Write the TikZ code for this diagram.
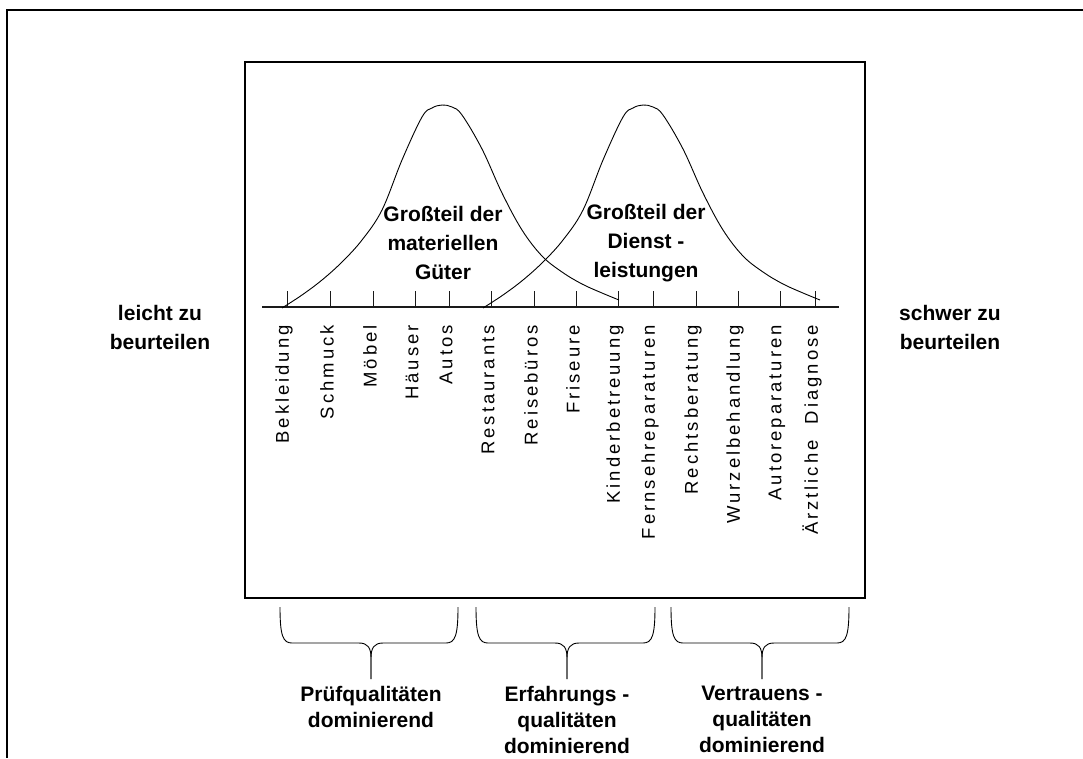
\documentclass[tikz,border=0pt]{standalone}
\usepackage{fontspec}
\setmainfont{Liberation Sans}
\newfontfamily\ticklabelfont[LetterSpace=16]{Liberation Sans}
\usetikzlibrary{calc}
\usetikzlibrary{positioning}
\definecolor{color_frame}{HTML}{000000}
\definecolor{color_chart_line}{HTML}{1A1A1A}
\def\axisy{307}
\def\ticktop{291}
\def\labeltop{325}
\def\bracetop{607}
\def\braceflat{643}
\def\bracetip{679}
% bell curve through points given relative to its peak x
\def\bellcurve(#1){
    \draw[bellline] plot[smooth, tension=0.6] coordinates {
        (#1-160,308) (#1-140,295) (#1-120,280) (#1-100,262) (#1-80,240) (#1-60,210)
        (#1-40,160) (#1-20,117) (#1-10,108) (#1,105) (#1+10,107) (#1+20,115) (#1+40,149)
        (#1+60,193) (#1+80,230) (#1+100,256) (#1+120,272) (#1+140,284) (#1+160,293) (#1+177,300)};
}
% brace below the box: left x, tip x, right x, name of tip
\def\qualbrace(#1,#2,#3,#4){
    \coordinate (#4) at (#2,\bracetip);
    \draw[braceline] (#1,\bracetop) .. controls (#1,\braceflat-7) and (#1+3,\braceflat) .. (#1+12,\braceflat)
        -- (#2-12,\braceflat) .. controls (#2-3,\braceflat) and (#2,\braceflat+5) .. (#2,\braceflat+15) -- (#4);
    \draw[braceline] (#4) -- (#2,\braceflat+15) .. controls (#2,\braceflat+5) and (#2+3,\braceflat) .. (#2+12,\braceflat)
        -- (#3-12,\braceflat) .. controls (#3-3,\braceflat) and (#3,\braceflat-7) .. (#3,\bracetop);
}

\begin{document}
\begin{tikzpicture}[x=1pt, y=-1pt,
        frameline/.style={color_frame, line width=1.8pt},
        boxline/.style={color_frame, line width=1.2pt},
        axisline/.style={color_chart_line, line width=1.3pt},
        tickline/.style={color_chart_line, line width=0.9pt},
        bellline/.style={color_frame, line width=0.9pt},
        braceline/.style={color_frame, line width=0.9pt},
        ticklabel/.style={rotate=90, anchor=east, inner sep=0pt, font=\ticklabelfont\fontsize{18.5}{20}\selectfont},
        boldtext/.style={align=center, inner sep=0pt, font=\bfseries\fontsize{21}{29}\selectfont},
        qualtext/.style={align=center, inner sep=0pt, font=\bfseries\fontsize{21}{26}\selectfont}]
    \useasboundingbox (0,0) rectangle (1083,758);
    % outer frame, only top and left
    \draw[frameline] (1083,10) -- (7,10) -- (7,758);
    % chart box
    \draw[boxline] (245,62) rectangle (865,598);
    % axis with ticks and labels
    \draw[axisline] (262,\axisy) -- (839,\axisy);
    \foreach \tx/\lab [count=\i] in {287/Bekleidung, 330/Schmuck, 373/Möbel, 415/Häuser, 449/Autos,
            491/Restaurants, 534/Reisebüros, 576/Friseure, 618/Kinderbetreuung, 653/Fernsehreparaturen,
            696/Rechtsberatung, 738/Wurzelbehandlung, 780/Autoreparaturen, 815/{Ärztliche\ \ Diagnose}}{
        \draw[tickline] (\tx,\ticktop) -- (\tx,\axisy);
        \node[ticklabel] (lab\i) at (\tx-3,\labeltop) {\lab};
    }
    % the two bell curves
    \bellcurve(442)
    \bellcurve(643)
    \node[boldtext] (goods) at (443,243) {Großteil der\\materiellen\\Güter};
    \node[boldtext] (services) at (646,243) {Großteil der\\Dienst -\\leistungen};
    % left and right ends of the scale
    \node[boldtext] (easy) at (160,327) {leicht zu\\beurteilen};
    \node[boldtext] (hard) at (950,327) {schwer zu\\beurteilen};
    % braces with the kinds of qualities
    \qualbrace(280,371,458,tip1)
    \qualbrace(476,567,655,tip2)
    \qualbrace(671,762,849,tip3)
    \node[qualtext, anchor=north, below=7pt of tip1] (search) {Prüfqualitäten\\dominierend};
    \node[qualtext, anchor=north, below=7pt of tip2] (experience) {Erfahrungs -\\qualitäten\\dominierend};
    \node[qualtext, anchor=north, below=7pt of tip3] (credence) {Vertrauens -\\qualitäten\\dominierend};
\end{tikzpicture}
\end{document}
